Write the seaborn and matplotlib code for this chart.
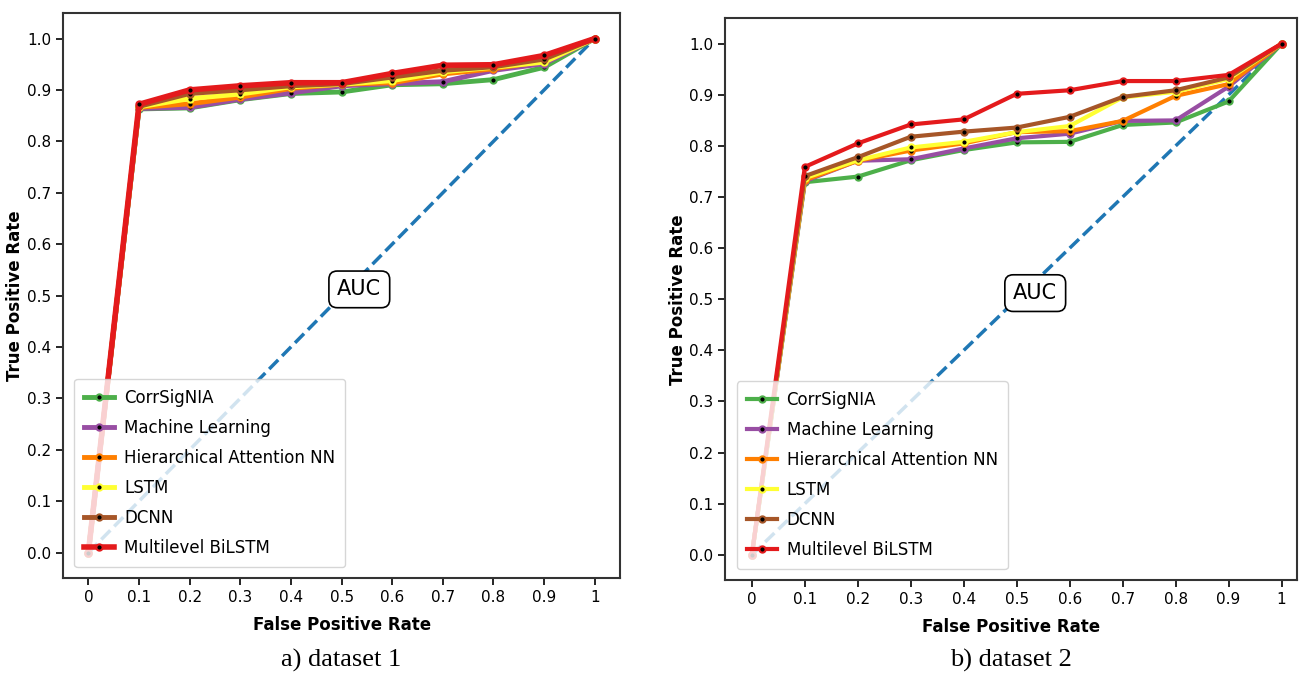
import numpy as np
import pandas as pd
import matplotlib
matplotlib.use("Agg")
import matplotlib.pyplot as plt
import seaborn as sns

fpr = [0.0, 0.1, 0.2, 0.3, 0.4, 0.5, 0.6, 0.7, 0.8, 0.9, 1.0]
tick_labels = ["0", "0.1", "0.2", "0.3", "0.4", "0.5", "0.6", "0.7", "0.8", "0.9", "1"]
methods = ["CorrSigNIA", "Machine Learning", "Hierarchical Attention NN", "LSTM", "DCNN", "Multilevel BiLSTM"]

# dataset 1
d1_corr = [0.0, 0.863, 0.865, 0.881, 0.893, 0.896, 0.910, 0.912, 0.920, 0.944, 1.0]
d1_ml   = [0.0, 0.864, 0.866, 0.882, 0.894, 0.908, 0.912, 0.916, 0.938, 0.951, 1.0]
d1_han  = [0.0, 0.866, 0.873, 0.886, 0.903, 0.911, 0.914, 0.931, 0.941, 0.956, 1.0]
d1_lstm = [0.0, 0.867, 0.883, 0.892, 0.906, 0.911, 0.918, 0.935, 0.944, 0.954, 1.0]
d1_dcnn = [0.0, 0.868, 0.893, 0.900, 0.908, 0.912, 0.925, 0.938, 0.945, 0.960, 1.0]
d1_bil  = [0.0, 0.872, 0.900, 0.908, 0.914, 0.914, 0.932, 0.948, 0.949, 0.967, 1.0]

# dataset 2
d2_corr = [0.0, 0.729, 0.740, 0.772, 0.792, 0.807, 0.808, 0.841, 0.846, 0.887, 1.0]
d2_ml   = [0.0, 0.731, 0.771, 0.774, 0.795, 0.815, 0.824, 0.849, 0.850, 0.916, 1.0]
d2_han  = [0.0, 0.733, 0.771, 0.791, 0.805, 0.827, 0.829, 0.849, 0.898, 0.921, 1.0]
d2_lstm = [0.0, 0.737, 0.772, 0.797, 0.808, 0.827, 0.839, 0.895, 0.906, 0.931, 1.0]
d2_dcnn = [0.0, 0.741, 0.778, 0.818, 0.828, 0.836, 0.857, 0.896, 0.909, 0.934, 1.0]
d2_bil  = [0.0, 0.759, 0.805, 0.842, 0.852, 0.902, 0.909, 0.927, 0.927, 0.939, 1.0]

colors = ["#4daf4a", "#984ea3", "#ff7f00", "#ffff33", "#a65628", "#e41a1c"]
chance = [0.0, 1.0]

datasets = [
    [d1_corr, d1_ml, d1_han, d1_lstm, d1_dcnn, d1_bil],
    [d2_corr, d2_ml, d2_han, d2_lstm, d2_dcnn, d2_bil],
]
captions = ["a) dataset 1", "b) dataset 2"]

fig = plt.figure(figsize=(13, 6.74), dpi=100)
axes = [fig.add_axes([0.0485, 0.142, 0.4285, 0.839]),
        fig.add_axes([0.558, 0.139, 0.440, 0.834])]

for k, ax in enumerate(axes):
    series = datasets[k]
    sns.lineplot(x=chance, y=chance, ax=ax, color="#1f77b4", linestyle="--",
                 linewidth=2.5, zorder=1)
    for i, (name, vals) in enumerate(zip(methods, series)):
        lw = (4.0 if i == 5 else 3.5) if k == 0 else 3.0
        df = pd.DataFrame({"fpr": fpr, "tpr": vals})
        sns.lineplot(data=df, x="fpr", y="tpr", ax=ax, color=colors[i], linewidth=lw,
                     marker="o", markersize=4.5, markerfacecolor="black",
                     markeredgecolor=colors[i], markeredgewidth=1.5, label=name,
                     zorder=2 + i)
    ax.set_xlim(-0.05, 1.05 if k == 0 else 1.03)
    ax.set_ylim(-0.05, 1.05)
    ax.set_xticks(fpr)
    ax.set_xticklabels(tick_labels)
    ax.set_yticks(np.round(np.arange(0, 1.01, 0.1), 1))
    ax.set_yticklabels([f"{v:.1f}" for v in np.arange(0, 1.01, 0.1)])
    ax.tick_params(labelsize=11, length=5, width=1.2)
    for s in ax.spines.values():
        s.set_linewidth(1.5)
        s.set_color("#333333")
    ax.set_xlabel("False Positive Rate", fontsize=12, fontweight="bold", labelpad=8)
    ax.set_ylabel("True Positive Rate", fontsize=12, fontweight="bold", labelpad=2)
    ax.text(0.535, 0.512, "AUC", fontsize=15, ha="center", va="center",
            bbox=dict(boxstyle="round,pad=0.4", facecolor="white", edgecolor="black", linewidth=1.2),
            zorder=10)
    leg = ax.legend(loc="lower left", fontsize=12, framealpha=0.8, labelspacing=0.72,
                    handlelength=1.8, handletextpad=0.6, borderpad=0.6,
                    bbox_to_anchor=(0.005, 0.005))
    leg.set_zorder(20)
    fig.text((ax.get_position().x0 + ax.get_position().x1) / 2, 0.003, captions[k],
             fontsize=19, ha="center", va="bottom", family="Liberation Serif")

fig.savefig("out.png", dpi=100)
